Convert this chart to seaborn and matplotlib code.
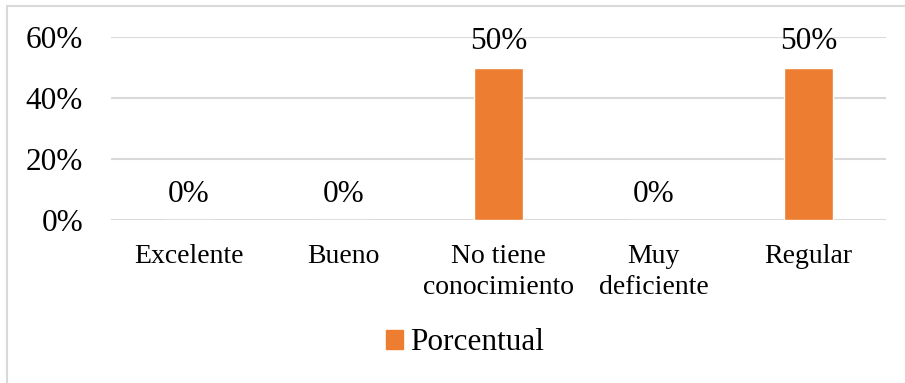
import matplotlib
matplotlib.use("Agg")
import matplotlib.pyplot as plt
import seaborn as sns
import pandas as pd
from matplotlib.patches import Rectangle

categorias = ["Excelente", "Bueno", "No tiene\nconocimiento", "Muy\ndeficiente", "Regular"]
porcentual = [0.0, 0.0, 0.50, 0.0, 0.50]
serie = "Porcentual"
ticks_y = [0.0, 0.2, 0.4, 0.6]

sns.set_theme(style="white")
plt.rcParams["font.family"] = ["Liberation Serif", "DejaVu Serif"]
plt.rcParams["text.color"] = "black"
plt.rcParams["xtick.color"] = "black"
plt.rcParams["ytick.color"] = "black"

naranja = "#ED7D31"
df = pd.DataFrame({"categoria": categorias, "valor": porcentual})

fig = plt.figure(figsize=(9.05, 3.83), dpi=100)
W, H = 905, 383
ax = fig.add_axes([111 / W, (H - 220) / H, (886 - 111) / W, (220 - 37) / H])

sns.barplot(data=df, x="categoria", y="valor", color=naranja, saturation=1,
            width=0.32, ax=ax, label=serie)

ax.set_ylim(0, 0.6)
ax.set_yticks(ticks_y)
ax.set_yticklabels([f"{int(round(t * 100))}%" for t in ticks_y], fontsize=22.5)
ax.tick_params(axis="y", length=0, pad=20, colors="black")
ax.tick_params(axis="x", length=0, pad=17, labelsize=20, colors="black")
for lbl in ax.get_xticklabels():
    lbl.set_linespacing(1.35)
ax.set_xlabel("")
ax.set_ylabel("")
ax.grid(axis="y", color="#D9D9D9", linewidth=1.5)
ax.set_axisbelow(True)
for s in ax.spines.values():
    s.set_visible(False)

ax.bar_label(ax.containers[0], labels=[f"{int(round(v * 100))}%" for v in porcentual],
             padding=8, fontsize=22.5, color="black")

handle = Rectangle((0, 0), 1, 1, color=naranja)
leg = ax.legend([handle], [serie], loc="center", bbox_to_anchor=(465 / W, 1 - 343 / H),
                bbox_transform=fig.transFigure, frameon=False, fontsize=22.5,
                handlelength=0.55, handleheight=0.55, handletextpad=0.25)
for t in leg.get_texts():
    t.set_color("black")

# marco del gráfico
fig.patches.append(Rectangle((7 / W, -0.1), 1.2, (1 - 6 / H) + 0.1, transform=fig.transFigure,
                             fill=False, edgecolor="#D9D9D9", linewidth=1.5))

fig.savefig("out.png", dpi=100, facecolor="white")
